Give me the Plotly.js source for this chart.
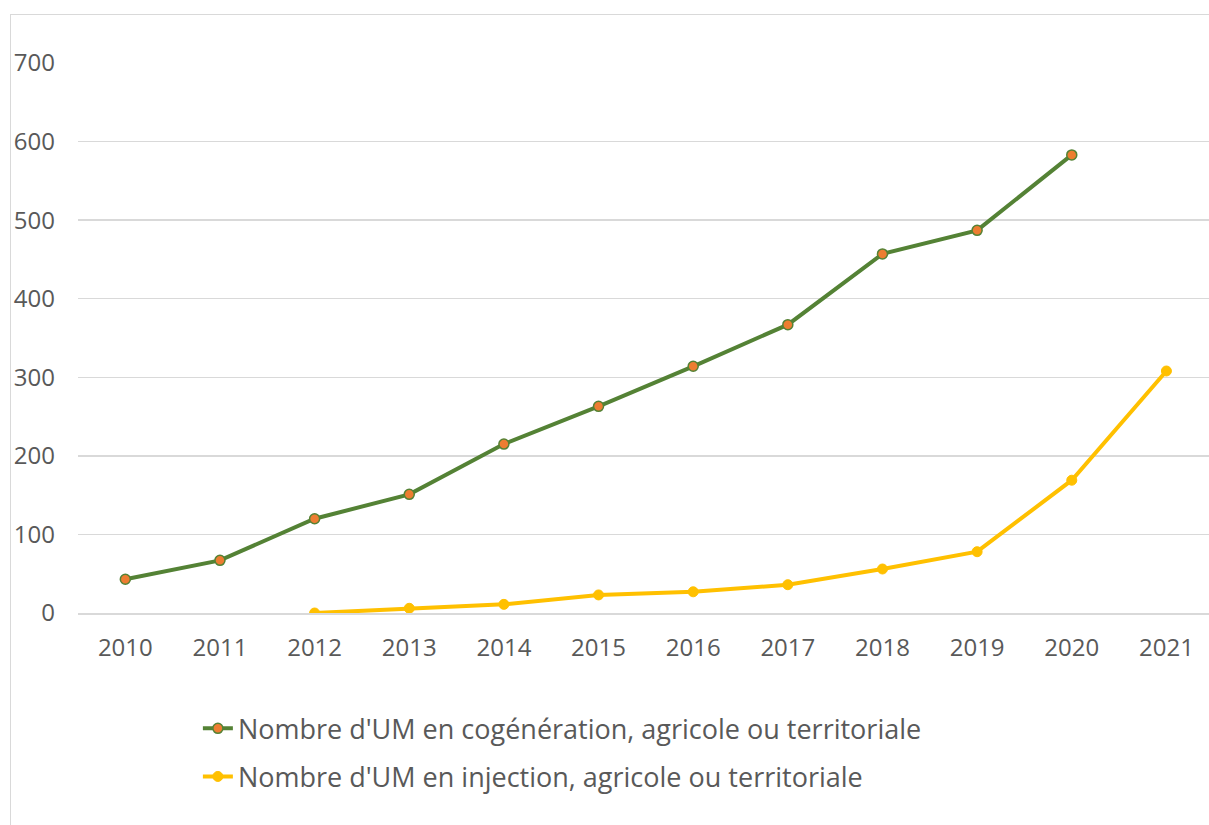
<!DOCTYPE html>
<html><head><meta charset="utf-8">
<script src="https://cdn.plot.ly/plotly-3.0.1.min.js"></script>
<style>
html,body{margin:0;padding:0;background:#fff;}
#chart{width:1209px;height:825px;position:absolute;left:0;top:0;}
#frame{position:absolute;left:10px;top:14px;width:1220px;height:820px;border:1.5px solid #D9D9D9;pointer-events:none;}
</style></head>
<body>
<div id="chart"></div>
<div id="frame"></div>
<script>
const years = ['2010','2011','2012','2013','2014','2015','2016','2017','2018','2019','2020','2021'];
const cogeneration = [43, 67, 120, 151, 215, 263, 314, 367, 457, 487, 583, null];
const injection = [null, null, 0, 6, 11, 23, 27, 36, 56, 78, 169, 308];
const seriesNames = ["Nombre d'UM en cogénération, agricole ou territoriale", "Nombre d'UM en injection, agricole ou territoriale"];
const yTicks = [0, 100, 200, 300, 400, 500, 600, 700];

const font = "'Open Sans', 'Liberation Sans', sans-serif";
const traces = [
  {x: years, y: cogeneration, name: seriesNames[0], type: 'scatter', mode: 'lines+markers',
   legendgroup: 'a', line: {color: '#548235', width: 4},
   marker: {color: '#ED7D31', size: 10, line: {color: '#548235', width: 1.5}}},
  {x: years, y: injection, name: seriesNames[1], type: 'scatter', mode: 'lines+markers',
   legendgroup: 'b', line: {color: '#FFC000', width: 4},
   marker: {color: '#FFC000', size: 10, line: {color: '#FFC000', width: 1}}}
];
const layout = {
  width: 1209, height: 825,
  margin: {l: 78, r: 0, t: 63, b: 212},
  paper_bgcolor: 'rgba(0,0,0,0)', plot_bgcolor: '#fff',
  font: {family: font, size: 24, color: '#595959'},
  showlegend: true,
  legend: {orientation: 'v', x: 0.106, xanchor: 'left', y: -0.166, yanchor: 'top',
           font: {family: font, size: 27, color: '#595959'}, tracegroupgap: 10, bgcolor: 'rgba(0,0,0,0)'},
  xaxis: {type: 'category', range: [-0.5, 11.45], showgrid: false, zeroline: false,
          showline: true, linecolor: '#D9D9D9', linewidth: 1.5, ticks: '', ticklabelstandoff: 13,
          tickfont: {family: font, size: 24, color: '#595959'}},
  yaxis: {range: [0, 700], tickvals: yTicks, showgrid: true, gridcolor: '#D9D9D9', gridwidth: 1.5,
          zeroline: false, showline: false, ticks: '', ticklabelstandoff: 22,
          tickfont: {family: font, size: 24, color: '#595959'}}
};
Plotly.newPlot('chart', traces, layout, {displayModeBar: false, staticPlot: true});
</script>
</body></html>
